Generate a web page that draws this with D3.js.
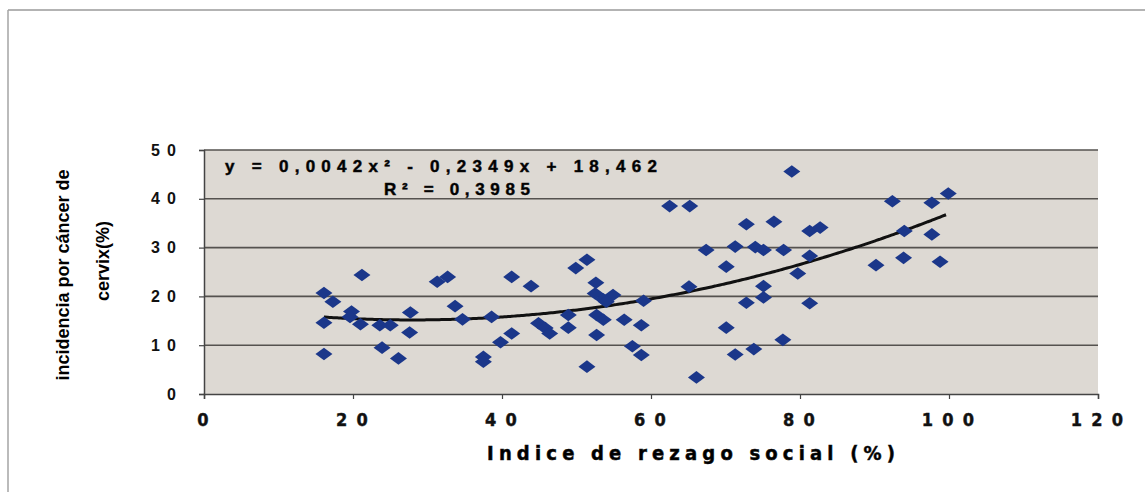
<!DOCTYPE html>
<html>
<head>
<meta charset="utf-8">
<script src="https://cdn.jsdelivr.net/npm/d3@7"></script>
<style>
  body { margin: 0; background: #fff; }
  svg { display: block; }
  .tick text { fill: #111; }
</style>
</head>
<body>
<div id="chart"></div>
<script>
// rezago social (%) vs incidencia (%)
var rezago = [16.1, 17.3, 16.1, 16.1, 21.2, 19.8, 19.6, 21.0, 23.6, 25.0, 23.9, 26.1, 27.7, 27.6,
  31.3, 32.7, 33.7, 34.7, 37.5, 37.5, 38.6, 39.8, 41.3, 41.3, 43.9, 44.9, 45.8, 46.4, 48.9, 48.9,
  49.9, 51.4, 51.4, 52.6, 52.5, 53.6, 54.9, 54.0, 52.7, 53.6, 52.7, 56.4, 58.7, 57.5, 58.7, 59.0,
  62.5, 65.2, 65.1, 66.1, 67.4, 70.1, 70.1, 71.3, 71.3, 72.8, 72.8, 74.0, 75.1, 75.1, 75.1, 73.8,
  76.5, 77.8, 77.7, 78.9, 79.7, 81.3, 81.3, 81.3, 82.7, 90.2, 92.4, 93.9, 94.0, 97.7, 97.7, 98.8, 99.9];
var incidencia = [20.7, 18.9, 14.6, 8.2, 24.4, 16.9, 15.8, 14.3, 14.1, 14.1, 9.5, 7.3, 16.7, 12.6,
  23.0, 24.0, 18.0, 15.3, 7.6, 6.6, 15.8, 10.6, 12.4, 24.0, 22.1, 14.5, 13.5, 12.4, 16.2, 13.6,
  25.8, 27.5, 5.6, 22.8, 20.6, 19.4, 20.3, 18.9, 16.2, 15.2, 12.1, 15.2, 14.1, 9.8, 8.0, 19.1,
  38.5, 38.5, 22.0, 3.4, 29.5, 26.1, 13.6, 8.1, 30.2, 34.8, 18.7, 30.1, 29.5, 22.1, 19.8, 9.2,
  35.3, 29.5, 11.1, 45.6, 24.7, 28.3, 18.6, 33.4, 34.1, 26.4, 39.5, 27.9, 33.4, 39.2, 32.7, 27.1, 41.1];

// polynomial trend as printed on the chart: a*x^2 + b*x + c
var trendCoef = [0.0042, -0.2349, 18.462];
var trendRange = [16.1, 99.9];

var xTicks = [0, 20, 40, 60, 80, 100, 120];
var yTicks = [0, 10, 20, 30, 40, 50];

var equationText = "y = 0,0042x\u00B2 - 0,2349x + 18,462";
var r2Text = "R\u00B2 = 0,3985";
var xTitle = "Indice de rezago social (%)";
var yTitle = ["incidencia por cáncer de", "cervix(%)"];

var W = 1145, H = 492;
var narrow = "'DejaVu Sans Condensed', 'Liberation Sans Narrow', 'Arial Narrow', sans-serif";
var arial = "'Liberation Sans', Arial, sans-serif";

var svg = d3.select("#chart").append("svg")
    .attr("width", W)
    .attr("height", H);

// outer frame (only top + left edges show in the scan)
svg.append("line").attr("x1", 8).attr("x2", W).attr("y1", 10).attr("y2", 10)
    .attr("stroke", "#9a9a9a").attr("stroke-width", 1.5);
svg.append("line").attr("x1", 8).attr("x2", 8).attr("y1", 10).attr("y2", H)
    .attr("stroke", "#a5a5a5").attr("stroke-width", 1.5);

var x = d3.scaleLinear().domain([0, 120]).range([204, 1098]);
var y = d3.scaleLinear().domain([0, 50]).range([394, 150]);

// plot area
svg.append("rect")
    .attr("x", x(0)).attr("y", y(50))
    .attr("width", x(120) - x(0)).attr("height", y(0) - y(50))
    .attr("fill", "#ddd9d3");

// gridlines
svg.append("g").selectAll("line")
    .data(yTicks.filter(d => d > 0))
    .enter().append("line")
    .attr("x1", x(0)).attr("x2", x(120))
    .attr("y1", d => y(d)).attr("y2", d => y(d))
    .attr("stroke", "#55524f").attr("stroke-width", 1.6);

// axes
var fmtSpaced = d => String(d).split("").join("\u2009");

var gx = svg.append("g")
    .attr("transform", "translate(0," + y(0) + ")")
    .call(d3.axisBottom(x).tickValues(xTicks).tickSize(5).tickPadding(14).tickFormat(fmtSpaced));
gx.select(".domain").attr("stroke", "#444").attr("stroke-width", 1.5);
gx.selectAll(".tick line").attr("stroke", "#444").attr("stroke-width", 1.2);
gx.selectAll(".tick text")
    .style("font-family", narrow)
    .style("font-weight", "bold")
    .style("font-size", "18px")
    .style("letter-spacing", "3px")
    .attr("stroke", "#111").attr("stroke-width", 0.4);

var gy = svg.append("g")
    .attr("transform", "translate(" + x(0) + ",0)")
    .call(d3.axisLeft(y).tickValues(yTicks).tickSize(5).tickPadding(21).tickFormat(fmtSpaced));
gy.select(".domain").attr("stroke", "#444").attr("stroke-width", 1.5);
gy.selectAll(".tick line").attr("stroke", "#444").attr("stroke-width", 1.2);
gy.selectAll(".tick text")
    .style("font-family", arial)
    .style("font-weight", "bold")
    .style("font-size", "16px")
    .style("letter-spacing", "2px");

// trend line
var trendX = d3.range(trendRange[0], trendRange[1] + 0.01, 0.5);
var trend = d3.line()
    .x(d => x(d))
    .y(d => y(trendCoef[0] * d * d + trendCoef[1] * d + trendCoef[2]))
    .curve(d3.curveBasis);
svg.append("path")
    .datum(trendX)
    .attr("d", trend)
    .attr("fill", "none")
    .attr("stroke", "#111")
    .attr("stroke-width", 3);

// diamonds
var pts = rezago.map((v, i) => [v, incidencia[i]]);
svg.append("g").selectAll("path")
    .data(pts)
    .enter().append("path")
    .attr("d", "M0,-6.3L8.5,0L0,6.3L-8.5,0Z")
    .attr("transform", d => "translate(" + x(d[0]) + "," + y(d[1]) + ")")
    .attr("fill", "#1b378a");

// equation labels
svg.append("text")
    .attr("x", 225).attr("y", 172)
    .attr("textLength", 432).attr("lengthAdjust", "spacing")
    .attr("stroke", "#111").attr("stroke-width", 0.5)
    .style("font-family", arial)
    .style("font-weight", "bold")
    .style("font-size", "17px")
    .text(equationText);
svg.append("text")
    .attr("x", 384).attr("y", 195)
    .attr("textLength", 146).attr("lengthAdjust", "spacing")
    .attr("stroke", "#111").attr("stroke-width", 0.5)
    .style("font-family", arial)
    .style("font-weight", "bold")
    .style("font-size", "17px")
    .text(r2Text);

// axis titles
svg.append("text")
    .attr("x", 487).attr("y", 460)
    .attr("textLength", 408).attr("lengthAdjust", "spacing")
    .attr("stroke", "#111").attr("stroke-width", 0.5)
    .style("font-family", narrow)
    .style("font-weight", "bold")
    .style("font-size", "20px")
    .text(xTitle);

var yTitlePos = [[69, 275], [109, 261]];
svg.append("g").selectAll("text")
    .data(yTitle)
    .enter().append("text")
    .attr("transform", (d, i) => "translate(" + yTitlePos[i][0] + "," + yTitlePos[i][1] + ") rotate(-90)")
    .attr("text-anchor", "middle")
    .style("font-family", arial)
    .style("font-weight", "bold")
    .style("font-size", "18px")
    .text(d => d);
</script>
</body>
</html>
